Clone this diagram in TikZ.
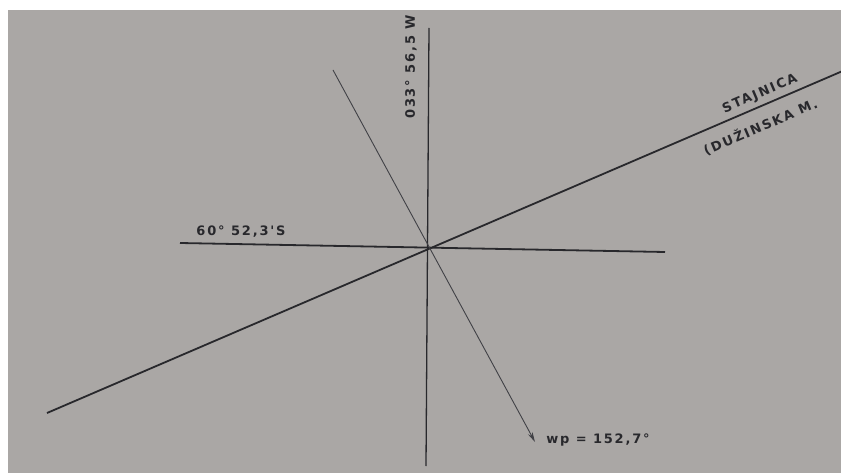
\documentclass[tikz,border=0pt]{standalone}
\usepackage{fontspec}
\setmainfont{DejaVu Sans}
\newfontfamily\hand[LetterSpace=14]{DejaVu Sans}
\usetikzlibrary{arrows.meta}
\definecolor{paper}{RGB}{170,167,165}
\definecolor{ink}{RGB}{40,40,44}
\definecolor{inklight}{RGB}{65,65,70}
\tikzset{
  lbl/.style={text=ink, inner sep=0pt, font=\hand\bfseries\fontsize{13}{15}\selectfont},
  thick line/.style={draw=ink, line width=1.8pt},
  mid line/.style={draw=ink, line width=1.3pt},
  thin line/.style={draw=inklight, line width=0.9pt}
}
\begin{document}
\begin{tikzpicture}[x=1pt,y=-1pt]
\useasboundingbox (0,0) rectangle (841,473);
\fill[white] (0,0) rectangle (841,473);
\fill[paper] (8,10) rectangle (841,473);
\clip (0,0) rectangle (841,473);
% points
\coordinate (c) at (428,250);
\coordinate (vtop) at (429,28);
\coordinate (vbot) at (426,466);
\coordinate (hl) at (180,243);
\coordinate (hr) at (665,252);
\coordinate (sl) at (47,413);
\coordinate (sr) at (845,70);
\coordinate (wt) at (333,70);
\coordinate (wb) at (535,442);
% lines
\draw[mid line] (vtop) -- (vbot);
\draw[thick line] (hl) -- (hr);
\draw[thick line] (sl) -- (sr);
\draw[thin line, -{Stealth[length=10pt,width=5pt]}] (wt) -- (wb);
% labels
\node[lbl, rotate=90] (vlab) at (411,67) {033° 56,5 W};
\node[lbl] (hlab) at (241,232) {60° 52,3'S};
\node[lbl, rotate=23.3] (slab1) at (760,94) {STAJNICA};
\node[lbl, rotate=23.3, anchor=west] (slab2) at (704,151) {(DUŽINSKA M.};
\node[lbl] (wlab) at (598,440) {wp = 152,7°};
\end{tikzpicture}
\end{document}
